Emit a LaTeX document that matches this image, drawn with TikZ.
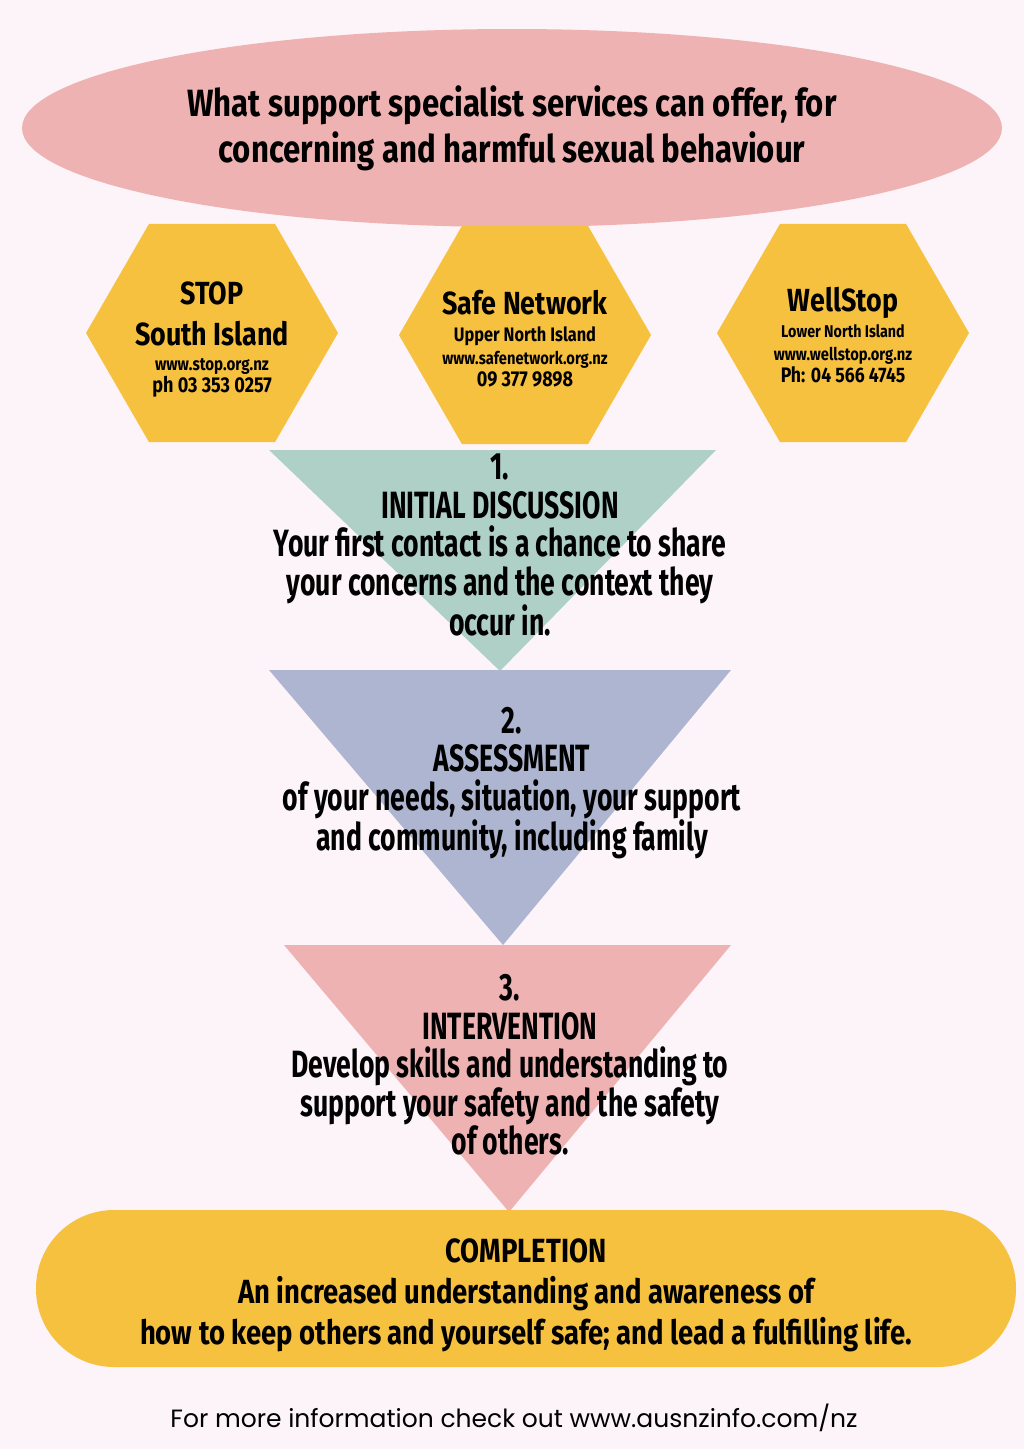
\documentclass[tikz,border=0pt]{standalone}
\usepackage{fontspec}
\setmainfont{Fira Sans}[FakeStretch=0.70]
\newfontfamily\hexfont{Fira Sans}[FakeStretch=0.84]
\newfontfamily\widefont{Fira Sans}[FakeStretch=0.82]
\newfontfamily\footfont{Poppins}
\usetikzlibrary{shapes.geometric,positioning}
\definecolor{bgpink}{HTML}{FCF4F8}
\definecolor{rosepink}{HTML}{EFB2B2}
\definecolor{mustard}{HTML}{F7C140}
\definecolor{sage}{HTML}{AFD0C6}
\definecolor{slateblue}{HTML}{AEB5D0}
\newcommand{\infosize}[1]{\fontsize{#1}{22.5}\selectfont}
\tikzset{banner/.style={ellipse,fill=rosepink,minimum width=980pt,minimum height=198pt,align=center,
    font=\widefont\fontsize{38}{46}\selectfont\bfseries},
  hexa/.style={regular polygon,regular polygon sides=6,minimum size=252pt,inner sep=0pt,fill=mustard},
  hexname/.style={align=center,inner sep=0pt,font=\hexfont\fontsize{32}{41}\selectfont\bfseries},
  hexinfo/.style={align=center,inner sep=0pt,font=\hexfont\infosize{18}\bfseries},
  stagetext/.style={align=center,inner sep=0pt,font=\fontsize{38}{38.5}\selectfont\bfseries},
  pill/.style={rectangle,rounded corners=78pt,fill=mustard,minimum width=980pt,minimum height=157pt},
  pilltext/.style={align=center,inner sep=0pt,font=\widefont\fontsize{33.5}{41}\selectfont\bfseries},
  footline/.style={inner sep=0pt,font=\footfont\fontsize{25}{30}\selectfont}}

\begin{document}
\begin{tikzpicture}[x=1pt,y=-1pt]
\fill[bgpink] (0,0) rectangle (1024,1449);
\useasboundingbox (0,0) rectangle (1024,1449);

\node[banner] (title) at (512,128) {What support specialist services can offer, for\\concerning and harmful sexual behaviour};

\node[hexa] (stop) at (212,333) {};
\node[hexname] (stopname) at (212,314) {STOP\\South Island};
\node[hexinfo] (stopinfo) at (212,378) {\infosize{18}www.stop.org.nz\\\infosize{21.5}ph 03 353 0257};
\node[hexa] (safe) at (525,335) {};
\node[hexname] (safename) at (525,303) {Safe Network};
\node[hexinfo] (safeinfo) at (525,357) {\infosize{19.5}Upper North Island\\\infosize{17.5}www.safenetwork.org.nz\\\infosize{21.5}09 377 9898};
\node[hexa] (well) at (843,333) {};
\node[hexname] (wellname) at (843,303) {WellStop};
\node[hexinfo] (wellinfo) at (843,354) {\infosize{17}Lower North Island\\\infosize{17.5}www.wellstop.org.nz\\\infosize{21}Ph: 04 566 4745};

\fill[sage] (269,450) -- (716,450) -- (500,671) -- cycle;
\node[stagetext] (initial) at (500,545) {1.\\INITIAL DISCUSSION\\Your first contact is a chance to share\\your concerns and the context they\\occur in.};
\fill[slateblue] (269,670) -- (731,670) -- (503,945) -- cycle;
\node[stagetext] (assess) at (512,783) {2.\\ASSESSMENT\\of your needs, situation, your support\\and community, including family};
\fill[rosepink] (284,945) -- (731,945) -- (509,1212) -- cycle;
\node[stagetext] (interv) at (510,1065) {3.\\INTERVENTION\\Develop skills and understanding to\\support your safety and the safety\\of others.};

\node[pill] (done) at (526,1288.5) {};
\node[pilltext] (donetext) at (526,1295) {COMPLETION\\An increased understanding and awareness of\\how to keep others and yourself safe; and lead a fulfilling life.};

\node[footline] (more) at (514,1418) {For more information check out www.ausnzinfo.com/nz};
\end{tikzpicture}
\end{document}
